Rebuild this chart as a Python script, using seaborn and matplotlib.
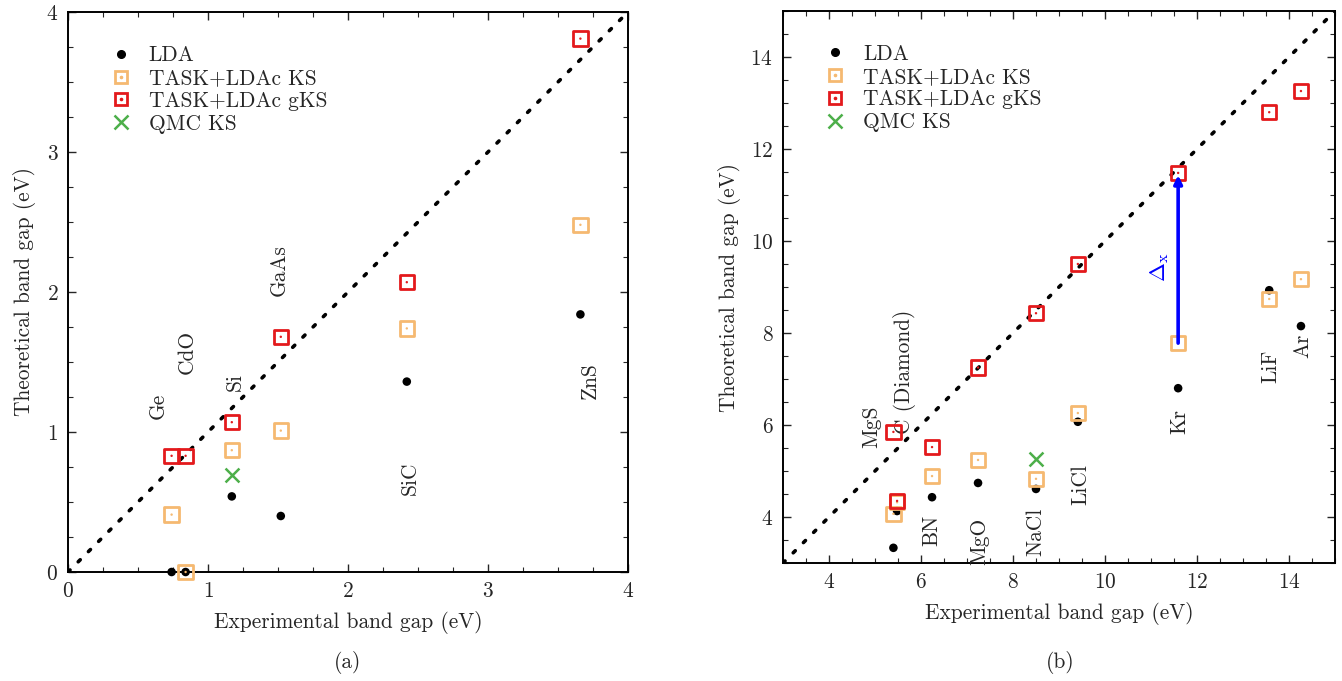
import numpy as np
import pandas as pd
import matplotlib
matplotlib.use("Agg")
import matplotlib.pyplot as plt
import seaborn as sns
from matplotlib.lines import Line2D
from matplotlib.legend_handler import HandlerTuple
from matplotlib.ticker import MultipleLocator

# ---------------- data ----------------
# panel (a)
mat_a = ['Ge', 'CdO', 'Si', 'GaAs', 'SiC', 'ZnS']
exp_a = [0.74, 0.84, 1.17, 1.52, 2.42, 3.66]
lda_a = [0.00, 0.00, 0.54, 0.40, 1.36, 1.84]
ks_a = [0.41, 0.00, 0.87, 1.01, 1.74, 2.48]
gks_a = [0.83, 0.83, 1.07, 1.68, 2.07, 3.81]
qmc_a_exp = [1.17]
qmc_a = [0.69]

# panel (b)
mat_b = ['MgS', 'C (Diamond)', 'BN', 'MgO', 'NaCl', 'LiCl', 'Kr', 'LiF', 'Ar']
exp_b = [5.40, 5.48, 6.24, 7.24, 8.50, 9.41, 11.59, 13.57, 14.26]
lda_b = [3.33, 4.13, 4.43, 4.74, 4.61, 6.07, 6.80, 8.93, 8.15]
ks_b = [4.07, 4.32, 4.89, 5.24, 4.83, 6.26, 7.78, 8.74, 9.17]
gks_b = [5.85, 4.35, 5.52, 7.25, 8.43, 9.50, 11.48, 12.80, 13.26]
qmc_b_exp = [8.50]
qmc_b = [5.26]

# label positions (text centres, data coords)
lab_a_pos = [(0.64, 1.19), (0.85, 1.57), (1.19, 1.36), (1.51, 2.16), (2.44, 0.67), (3.73, 1.37)]
lab_b_pos = [(4.93, 5.97), (5.65, 7.15), (6.24, 3.72), (7.28, 3.46), (8.50, 3.68),
             (9.46, 4.70), (11.63, 6.07), (13.59, 7.28), (14.30, 7.72)]

# ---------------- style ----------------
sns.set_theme(style="ticks")
plt.rcParams['font.family'] = ['cmr10', 'DejaVu Serif']
plt.rcParams['mathtext.fontset'] = 'cm'
plt.rcParams['axes.formatter.use_mathtext'] = True
plt.rcParams['axes.unicode_minus'] = False

C_LDA = 'black'
C_KS = '#F5B971'
C_GKS = '#E3191C'
C_QMC = '#4DAF4A'
FS = 15.4

fig = plt.figure(figsize=(13.42, 6.81), dpi=100)
axA = fig.add_axes([68 / 1342, 1 - 572 / 681, 560 / 1342, 560 / 681])
axB = fig.add_axes([783 / 1342, 1 - 563 / 681, 552 / 1342, 552 / 681])


def draw(ax, exp, lda, ks, gks, qx, qy, lim):
    lo, hi = lim
    ax.plot([lo, hi], [lo, hi], color='black', linestyle=(0, (0.8, 3.2)),
            linewidth=2.6, dash_capstyle='round', zorder=1)
    df = pd.DataFrame({'exp': exp, 'lda': lda, 'ks': ks, 'gks': gks})
    sns.scatterplot(data=df, x='exp', y='lda', ax=ax, color=C_LDA, s=38,
                    marker='o', edgecolor='none', zorder=3, legend=False,
                    clip_on=False)
    for col, c in [('ks', C_KS), ('gks', C_GKS)]:
        sns.scatterplot(data=df, x='exp', y=col, ax=ax, marker='s', s=105,
                        facecolor='none', edgecolor=c, linewidth=2.0, zorder=4,
                        legend=False, clip_on=False)
        sns.scatterplot(data=df, x='exp', y=col, ax=ax, marker='o', s=3,
                        color=c, edgecolor='none', zorder=4, legend=False,
                        clip_on=False)
    sns.scatterplot(x=qx, y=qy, ax=ax, marker='x', s=100, color=C_QMC,
                    linewidth=1.8, zorder=4, legend=False)
    ax.set_xlim(lo, hi)
    ax.set_ylim(lo, hi)
    ax.tick_params(direction='in', top=True, right=True, which='both',
                   labelsize=FS, pad=7)
    ax.tick_params(which='major', length=6, width=1.0)
    ax.tick_params(which='minor', length=3.5, width=0.8)
    for sp in ax.spines.values():
        sp.set_linewidth(1.4)
        sp.set_color('black')
    ax.set_xlabel('Experimental band gap (eV)', fontsize=FS, labelpad=7)
    ax.set_ylabel('Theoretical band gap (eV)', fontsize=FS, labelpad=7)

    h_lda = Line2D([], [], marker='o', color=C_LDA, linestyle='none', markersize=5.5)
    h_ks = (Line2D([], [], marker='s', mfc='none', mec=C_KS, mew=2.0, linestyle='none', markersize=9.0),
            Line2D([], [], marker='o', color=C_KS, linestyle='none', markersize=1.6))
    h_gks = (Line2D([], [], marker='s', mfc='none', mec=C_GKS, mew=2.0, linestyle='none', markersize=9.0),
             Line2D([], [], marker='o', color=C_GKS, linestyle='none', markersize=1.6))
    h_qmc = Line2D([], [], marker='x', color=C_QMC, mew=1.8, linestyle='none', markersize=9.5)
    ax.legend([h_lda, h_ks, h_gks, h_qmc],
              ['LDA', 'TASK+LDAc KS', 'TASK+LDAc gKS', 'QMC KS'],
              handler_map={tuple: HandlerTuple(ndivide=1, pad=0)},
              loc='upper left', bbox_to_anchor=(0.06, 0.955), frameon=False,
              fontsize=FS, handlelength=1.0, handletextpad=0.8,
              labelspacing=0.15, borderaxespad=0)


draw(axA, exp_a, lda_a, ks_a, gks_a, qmc_a_exp, qmc_a, (0, 4))
draw(axB, exp_b, lda_b, ks_b, gks_b, qmc_b_exp, qmc_b, (3, 15))

axA.xaxis.set_major_locator(MultipleLocator(1))
axA.yaxis.set_major_locator(MultipleLocator(1))
axA.xaxis.set_minor_locator(MultipleLocator(0.25))
axA.yaxis.set_minor_locator(MultipleLocator(0.25))
axB.xaxis.set_major_locator(MultipleLocator(2))
axB.yaxis.set_major_locator(MultipleLocator(2))
axB.xaxis.set_minor_locator(MultipleLocator(0.5))
axB.yaxis.set_minor_locator(MultipleLocator(0.5))
axB.set_xticks([4, 6, 8, 10, 12, 14])
axB.set_yticks([4, 6, 8, 10, 12, 14])

for name, (px, py) in zip(mat_a, lab_a_pos):
    axA.text(px, py, name, rotation=90, ha='center', va='center', fontsize=FS)
for name, (px, py) in zip(mat_b, lab_b_pos):
    axB.text(px, py, name, rotation=90, ha='center', va='center', fontsize=FS)

# Delta_x arrow for Kr
ik = mat_b.index('Kr')
axB.annotate('', xy=(exp_b[ik], gks_b[ik] - 0.05), xytext=(exp_b[ik], ks_b[ik]),
             arrowprops=dict(arrowstyle='-|>', color='#0000FF', lw=2.6,
                             mutation_scale=12, shrinkA=0, shrinkB=0), zorder=5)
axB.text(exp_b[ik] - 0.4, 9.43, r'$\Delta_\mathrm{x}$', rotation=90, color='#0000FF',
         ha='center', va='center', fontsize=FS + 1)

fig.text(348 / 1342, 1 - 662 / 681, '(a)', ha='center', va='center', fontsize=FS)
fig.text(1060 / 1342, 1 - 662 / 681, '(b)', ha='center', va='center', fontsize=FS)

fig.savefig('out.png', dpi=100)
